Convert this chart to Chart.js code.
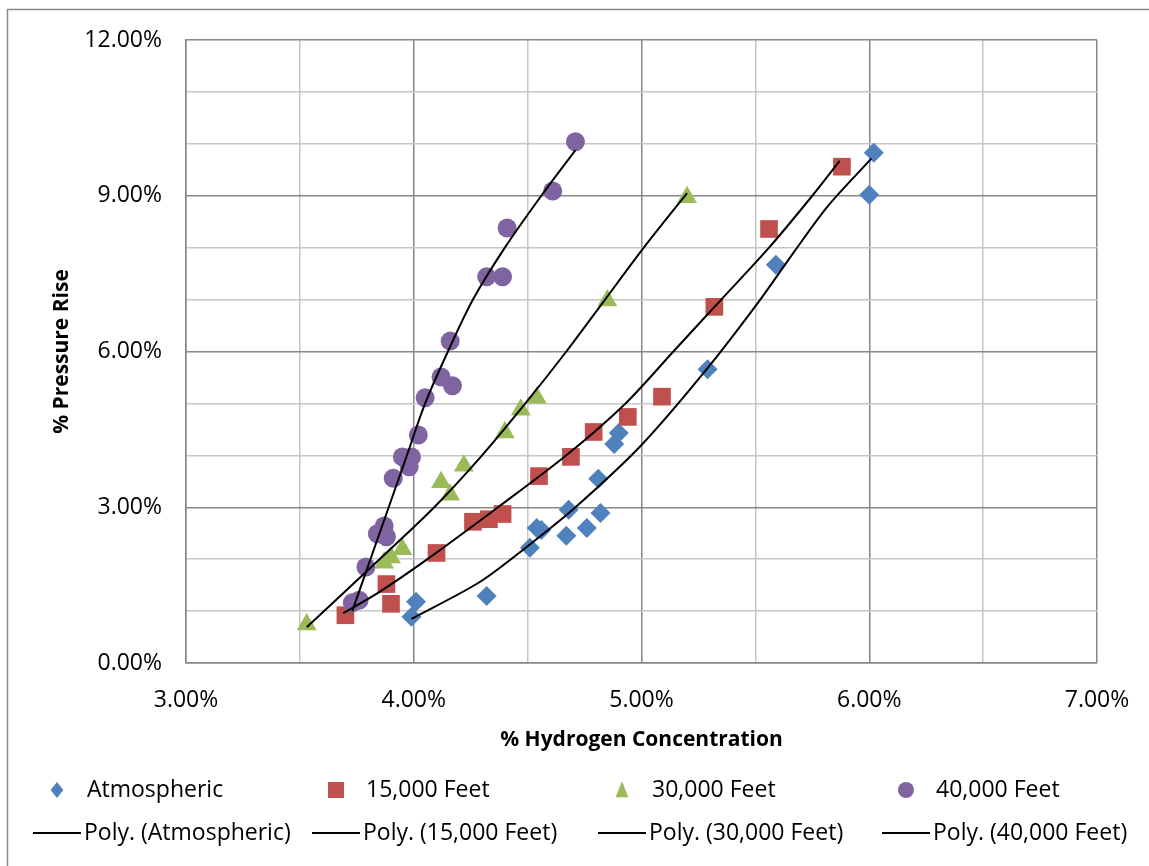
<!DOCTYPE html>
<html lang="en">
<head>
<meta charset="UTF-8">
<title>% Pressure Rise vs % Hydrogen Concentration</title>
<script src="https://cdn.jsdelivr.net/npm/chart.js"></script>
<style>
    html, body { margin: 0; padding: 0; background: #ffffff; }
    #chartContainer { position: relative; width: 1149px; height: 866px; }
</style>
</head>
<body>
<div id="chartContainer">
    <canvas id="h2Chart"></canvas>
</div>
<script>
    // values, both axes in percent
    const atmX = [6.02, 6.00, 5.59, 5.29, 4.90, 4.88, 4.81, 4.68, 4.82, 4.54, 4.56, 4.76, 4.67, 4.51, 4.32, 4.01, 3.99];
    const atmY = [9.83, 9.02, 7.67, 5.66, 4.43, 4.22, 3.55, 2.95, 2.89, 2.60, 2.56, 2.60, 2.45, 2.22, 1.29, 1.18, 0.89];

    const ft15X = [5.88, 5.56, 5.32, 5.09, 4.94, 4.79, 4.69, 4.55, 4.39, 4.33, 4.26, 4.10, 3.88, 3.90, 3.70];
    const ft15Y = [9.56, 8.36, 6.86, 5.13, 4.74, 4.45, 3.97, 3.60, 2.87, 2.77, 2.72, 2.12, 1.52, 1.14, 0.92];

    const ft30X = [5.20, 4.85, 4.54, 4.47, 4.40, 4.22, 4.12, 4.16, 3.95, 3.90, 3.87, 3.53];
    const ft30Y = [8.97, 6.98, 5.11, 4.88, 4.44, 3.80, 3.48, 3.24, 2.19, 2.03, 1.93, 0.74];

    const ft40X = [4.71, 4.61, 4.41, 4.32, 4.39, 4.16, 4.12, 4.17, 4.05, 4.02, 3.95, 3.99, 3.98, 3.91, 3.87, 3.84, 3.88, 3.79, 3.76, 3.73];
    const ft40Y = [10.04, 9.09, 8.38, 7.44, 7.44, 6.20, 5.51, 5.34, 5.11, 4.39, 3.97, 3.97, 3.78, 3.56, 2.64, 2.49, 2.43, 1.85, 1.21, 1.16];

    // "Poly." trendlines
    const polyAtmX = [3.99, 4.29, 4.50, 4.71, 5.00, 5.29, 5.52, 5.67, 5.82, 6.01];
    const polyAtmY = [0.85, 1.56, 2.25, 3.00, 4.20, 5.68, 6.99, 7.92, 8.81, 9.72];

    const poly15X = [3.69, 3.85, 4.06, 4.37, 4.67, 4.93, 5.14, 5.35, 5.56, 5.75, 5.87];
    const poly15Y = [0.96, 1.37, 2.00, 3.00, 4.00, 5.00, 6.00, 7.00, 8.00, 9.00, 9.67];

    const poly30X = [3.53, 3.85, 4.09, 4.30, 4.49, 4.67, 4.84, 5.01, 5.20];
    const poly30Y = [0.69, 2.00, 3.00, 4.00, 5.00, 6.00, 7.00, 8.00, 9.05];

    const poly40X = [3.73, 3.89, 3.97, 4.05, 4.15, 4.26, 4.40, 4.56, 4.71];
    const poly40Y = [1.00, 3.00, 4.00, 5.00, 6.00, 7.00, 8.00, 9.00, 9.88];

    const seriesNames = ['Atmospheric', '15,000 Feet', '30,000 Feet', '40,000 Feet'];
    const seriesColors = ['#4f81bd', '#c0504d', '#9bbb59', '#8064a2'];
    const seriesShapes = ['rectRot', 'rect', 'triangle', 'circle'];
    const seriesRadius = [10, 12.5, 11.5, 9.5];

    const xTickMin = 3, xTickMax = 7, xStep = 0.5;
    const yTickMin = 0, yTickMax = 12, yStep = 1;

    const FONT = '"Open Sans", Arial, sans-serif';
    const MAJOR_GRID = '#878787';
    const MINOR_GRID = '#c6c6c6';

    function toPoints(xs, ys) {
        return xs.map((x, i) => ({ x: x, y: ys[i] }));
    }

    const scatterX = [atmX, ft15X, ft30X, ft40X];
    const scatterY = [atmY, ft15Y, ft30Y, ft40Y];
    const polyX = [polyAtmX, poly15X, poly30X, poly40X];
    const polyY = [polyAtmY, poly15Y, poly30Y, poly40Y];

    const datasets = [];
    seriesNames.forEach((name, i) => {
        datasets.push({
            label: name,
            data: toPoints(scatterX[i], scatterY[i]),
            pointStyle: seriesShapes[i],
            pointRadius: seriesRadius[i],
            pointHoverRadius: seriesRadius[i],
            backgroundColor: seriesColors[i],
            borderColor: seriesColors[i],
            borderWidth: 0,
            showLine: false,
            order: 4 - i
        });
    });
    seriesNames.forEach((name, i) => {
        datasets.push({
            label: 'Poly. (' + name + ')',
            data: toPoints(polyX[i], polyY[i]),
            showLine: true,
            borderColor: '#000000',
            borderWidth: 2,
            pointRadius: 0,
            tension: 0.3,
            fill: false,
            order: 0
        });
    });

    // draws one legend marker symbol
    function drawMarker(ctx, shape, x, y, r, color) {
        ctx.fillStyle = color;
        ctx.beginPath();
        if (shape === 'rectRot') {
            ctx.moveTo(x, y - r); ctx.lineTo(x + r * 0.8, y); ctx.lineTo(x, y + r); ctx.lineTo(x - r * 0.8, y);
        } else if (shape === 'rect') {
            ctx.rect(x - r, y - r, 2 * r, 2 * r);
        } else if (shape === 'triangle') {
            ctx.moveTo(x, y - r * 1.1); ctx.lineTo(x + r * 0.8, y + r * 0.9); ctx.lineTo(x - r * 0.8, y + r * 0.9);
        } else {
            ctx.arc(x, y, r, 0, Math.PI * 2);
        }
        ctx.closePath();
        ctx.fill();
    }

    const legendCols = [33, 312, 598, 882];
    const legendRows = [790, 833];

    const frameAndLegend = {
        id: 'frameAndLegend',
        beforeDraw(chart) {
            const ctx = chart.ctx;
            ctx.save();
            ctx.fillStyle = '#ffffff';
            ctx.fillRect(0, 0, chart.width, chart.height);
            ctx.strokeStyle = '#898989';
            ctx.lineWidth = 1.5;
            ctx.strokeRect(7.5, 9.5, chart.width + 20, chart.height + 20);
            ctx.restore();
        },
        afterDraw(chart) {
            const ctx = chart.ctx;
            ctx.save();
            ctx.font = '23px ' + FONT;
            ctx.textBaseline = 'middle';
            seriesNames.forEach((name, i) => {
                const left = legendCols[i];
                drawMarker(ctx, seriesShapes[i], left + 24, legendRows[0], 8, seriesColors[i]);
                ctx.fillStyle = '#000000';
                ctx.fillText(name, left + 54, legendRows[0]);

                ctx.strokeStyle = '#000000';
                ctx.lineWidth = 2;
                ctx.beginPath();
                ctx.moveTo(left, legendRows[1]);
                ctx.lineTo(left + 48, legendRows[1]);
                ctx.stroke();
                ctx.fillText('Poly. (' + name + ')', left + 51, legendRows[1]);
            });
            ctx.restore();
        }
    };

    const ctx = document.getElementById('h2Chart').getContext('2d');
    const h2Chart = new Chart(ctx, {
        type: 'scatter',
        data: { datasets: datasets },
        plugins: [frameAndLegend],
        options: {
            responsive: true,
            maintainAspectRatio: false,
            animation: false,
            layout: { padding: { left: 0, top: 40, right: 52, bottom: 103 } },
            plugins: {
                legend: { display: false },
                tooltip: { enabled: false }
            },
            scales: {
                x: {
                    type: 'linear',
                    min: xTickMin,
                    max: xTickMax,
                    afterFit(scale) {
                        scale.height = 100;
                        scale.paddingLeft = 0;
                        scale.paddingRight = 0;
                    },
                    title: {
                        display: true,
                        text: '% Hydrogen Concentration',
                        color: '#000000',
                        font: { family: FONT, size: 21, weight: 'bold' },
                        padding: { top: 0, bottom: 10 }
                    },
                    ticks: {
                        stepSize: xStep,
                        autoSkip: false,
                        maxRotation: 0,
                        color: '#000000',
                        padding: 24,
                        font: { family: FONT, size: 23 },
                        callback: (v) => (v % 1 === 0 ? v.toFixed(2) + '%' : '')
                    },
                    grid: {
                        drawTicks: false,
                        lineWidth: 1.5,
                        color: (c) => (c.tick && c.tick.value % 1 === 0 ? MAJOR_GRID : MINOR_GRID)
                    },
                    border: { color: MAJOR_GRID, width: 1.5 }
                },
                y: {
                    type: 'linear',
                    min: yTickMin,
                    max: yTickMax,
                    afterFit(scale) {
                        scale.width = 186;
                        scale.paddingTop = 0;
                        scale.paddingBottom = 0;
                    },
                    title: {
                        display: true,
                        text: '% Pressure Rise',
                        color: '#000000',
                        font: { family: FONT, size: 21, weight: 'bold' },
                        padding: { top: 49, bottom: 0 }
                    },
                    ticks: {
                        stepSize: yStep,
                        autoSkip: false,
                        color: '#000000',
                        padding: 24,
                        font: { family: FONT, size: 23 },
                        callback: (v) => (v % 3 === 0 ? v.toFixed(2) + '%' : '')
                    },
                    grid: {
                        drawTicks: false,
                        lineWidth: 1.5,
                        color: (c) => (c.tick && c.tick.value % 3 === 0 ? MAJOR_GRID : MINOR_GRID)
                    },
                    border: { color: MAJOR_GRID, width: 1.5 }
                }
            }
        }
    });
</script>
</body>
</html>
